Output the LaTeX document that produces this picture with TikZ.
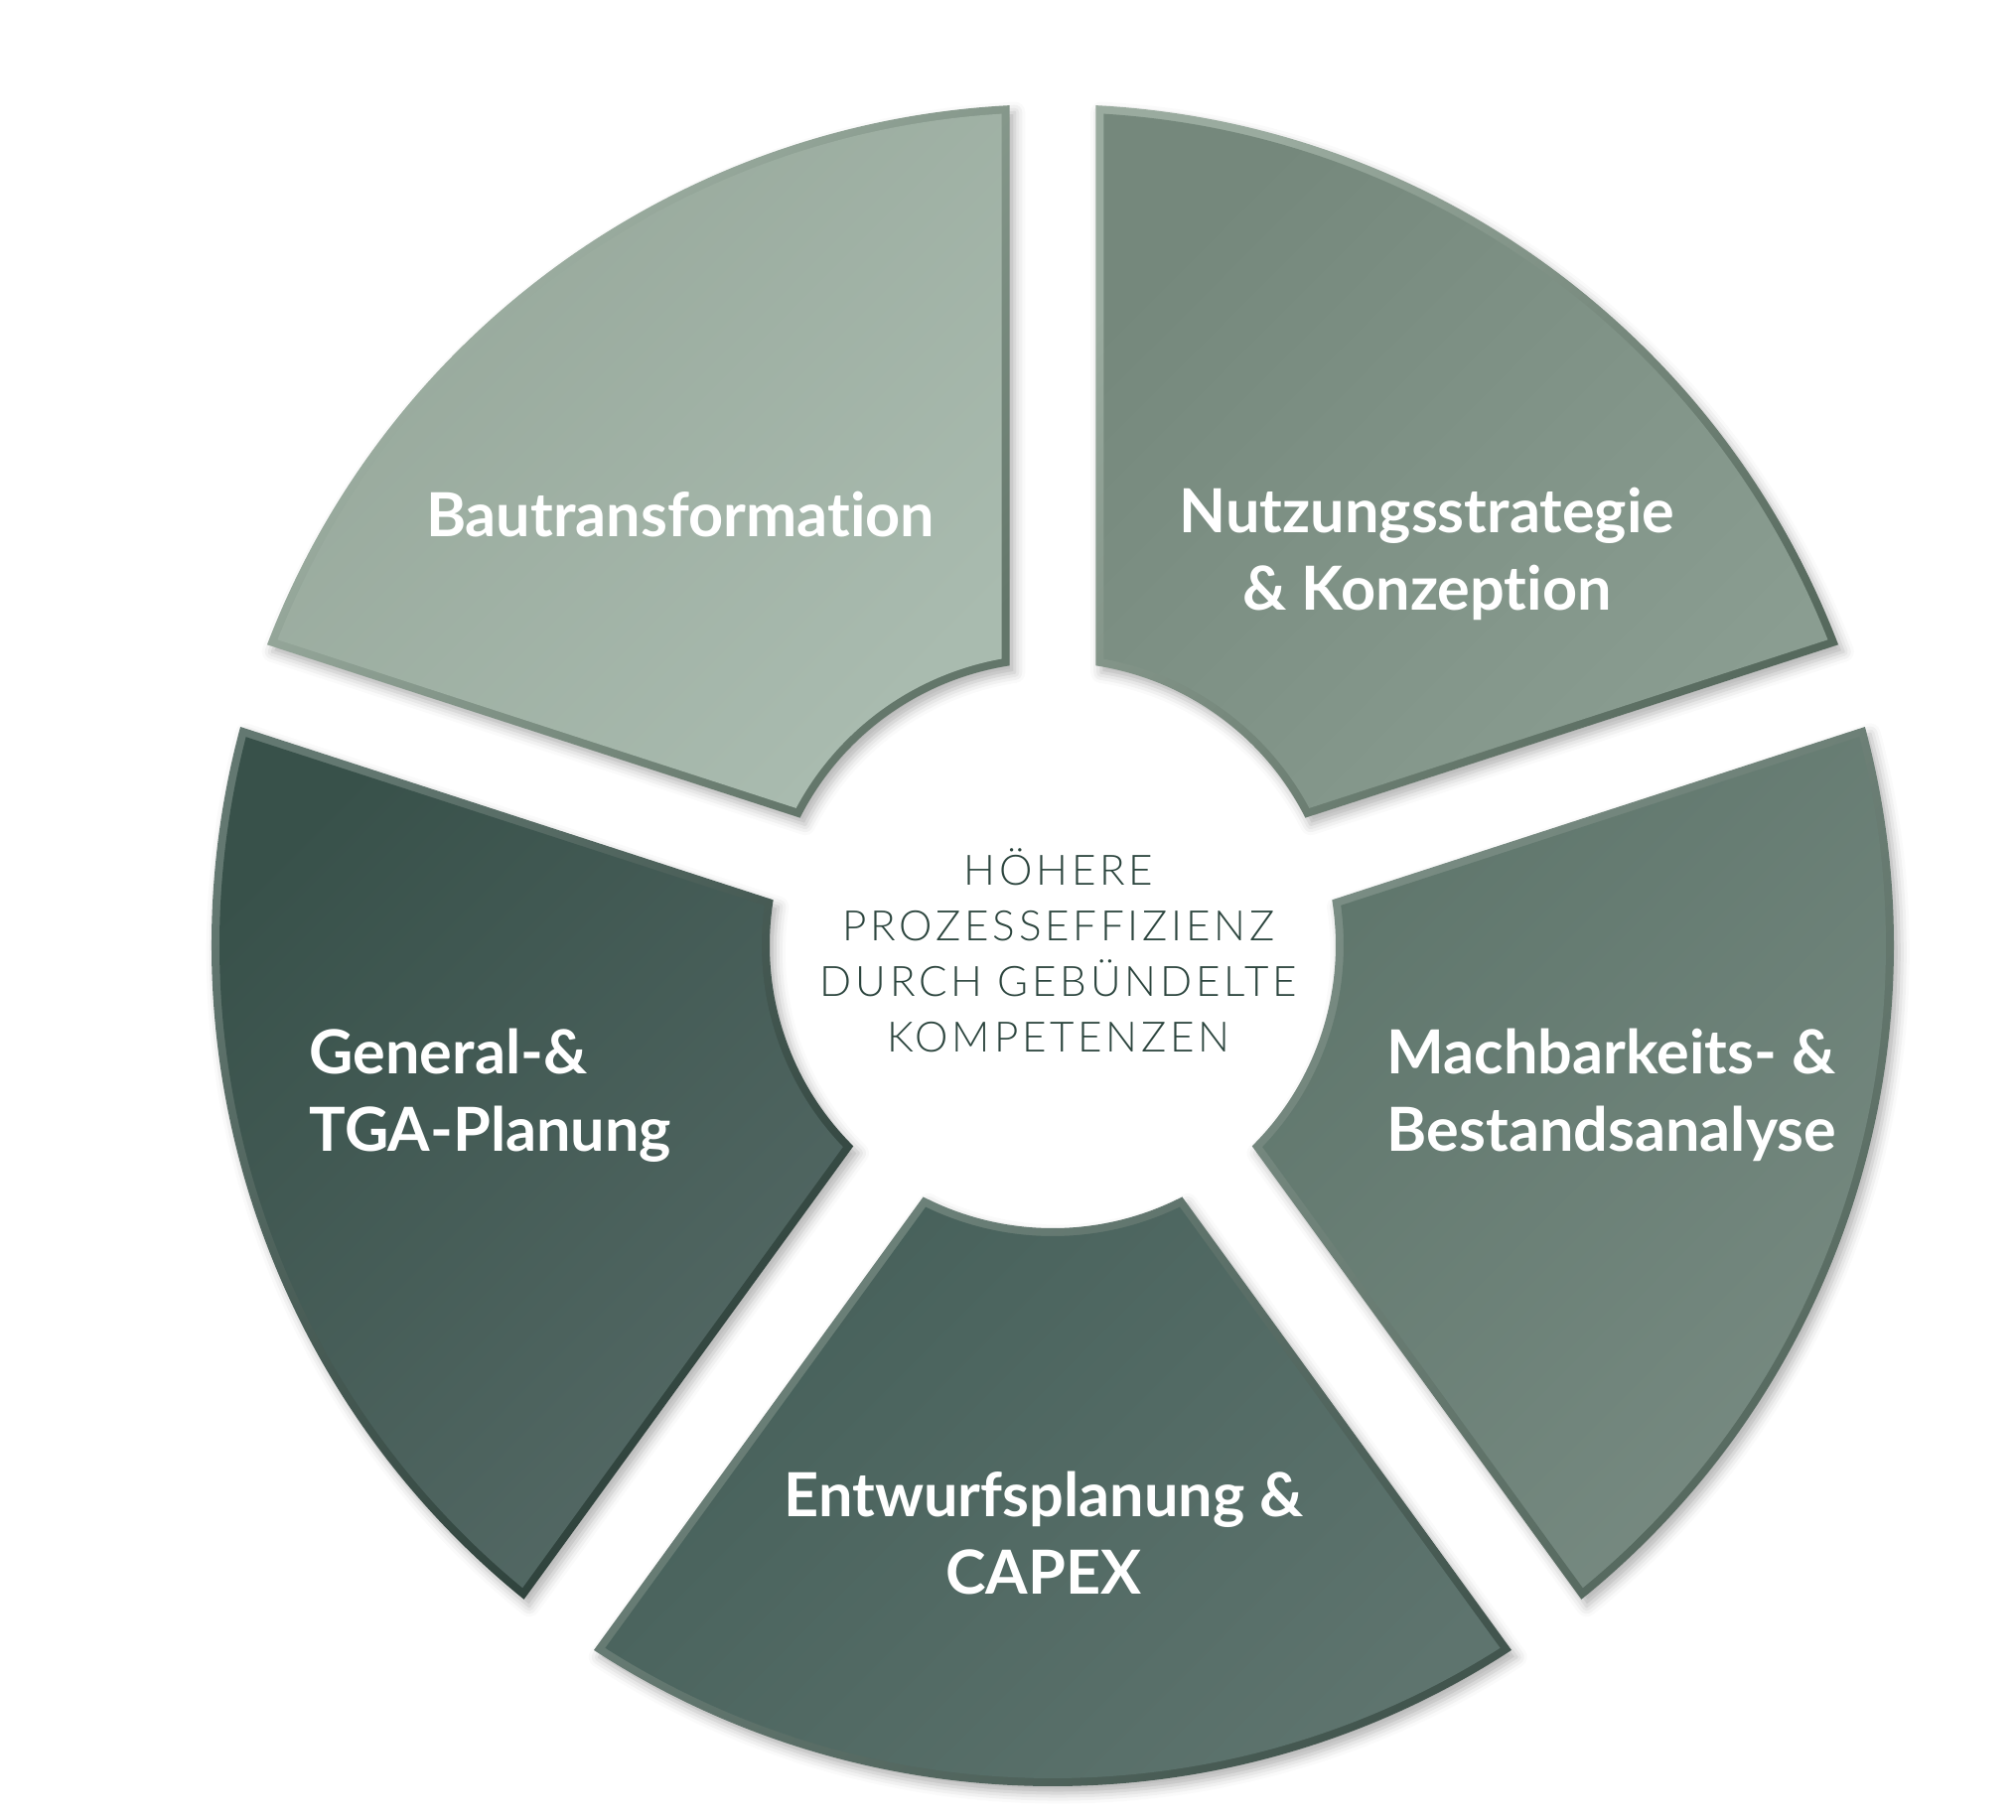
\documentclass[tikz,border=0pt]{standalone}
\usepackage{fontspec}
\setmainfont{Lato}[Ligatures=NoCommon]
\newfontfamily\lightfont{Lato Light}[LetterSpace=9]
\usetikzlibrary{shadows.blur}

\definecolor{faceA1}{HTML}{96A79A}\definecolor{faceA2}{HTML}{A9BBAF}
\definecolor{rimA1}{HTML}{AABBAE}\definecolor{rimA2}{HTML}{63766A}
\definecolor{faceB1}{HTML}{75887C}\definecolor{faceB2}{HTML}{8A9D91}
\definecolor{rimB1}{HTML}{9AAB9F}\definecolor{rimB2}{HTML}{56695D}
\definecolor{faceC1}{HTML}{5F766C}\definecolor{faceC2}{HTML}{788B82}
\definecolor{rimC1}{HTML}{7B8E85}\definecolor{rimC2}{HTML}{52655B}
\definecolor{faceD1}{HTML}{46605A}\definecolor{faceD2}{HTML}{5E746E}
\definecolor{rimD1}{HTML}{70857D}\definecolor{rimD2}{HTML}{42554E}
\definecolor{faceE1}{HTML}{38514A}\definecolor{faceE2}{HTML}{546965}
\definecolor{rimE1}{HTML}{637871}\definecolor{rimE2}{HTML}{2B3E38}
\definecolor{midtext}{HTML}{2C453E}

\def\labelfont{\fontsize{17.4}{22.2}\selectfont\bfseries}
\def\midfont{\lightfont\fontsize{12}{15.9}\selectfont}
% ring piece: start angle, end angle, outer radius, inner radius, half gap
\def\ringpart#1#2#3#4#5{({#1+asin(#5/#3)}:#3) arc[start angle={#1+asin(#5/#3)}, end angle={#2-asin(#5/#3)}, radius=#3] -- ({#2-asin(#5/#4)}:#4) arc[start angle={#2-asin(#5/#4)}, end angle={#1+asin(#5/#4)}, radius=#4] -- cycle}

\begin{document}
\begin{tikzpicture}[x=0.01cm,y=0.01cm,
  softshadow/.style={blur shadow={shadow xshift=1.5pt,shadow yshift=-2pt,shadow blur radius=3pt,shadow opacity=30}},
  seglabel/.style={text=white,font=\labelfont,inner sep=0pt},
  midlabel/.style={text=midtext,font=\midfont,align=center,inner sep=0pt}]
\useasboundingbox (-1060,-880) rectangle (970,952);

% Bautransformation
\path[softshadow,top color=rimA1,bottom color=rimA2,shading angle=45] \ringpart{90}{162}{847}{285}{43.5};
\path[top color=faceA1,bottom color=faceA2,shading angle=45] \ringpart{90}{162}{839}{293}{51.5};
% Nutzungsstrategie
\path[softshadow,top color=rimB1,bottom color=rimB2,shading angle=45] \ringpart{18}{90}{847}{285}{43.5};
\path[top color=faceB1,bottom color=faceB2,shading angle=45] \ringpart{18}{90}{839}{293}{51.5};
% Machbarkeit
\path[softshadow,top color=rimC1,bottom color=rimC2,shading angle=45] \ringpart{-54}{18}{847}{285}{43.5};
\path[top color=faceC1,bottom color=faceC2,shading angle=45] \ringpart{-54}{18}{839}{293}{51.5};
% Entwurf
\path[softshadow,top color=rimD1,bottom color=rimD2,shading angle=45] \ringpart{234}{306}{847}{285}{43.5};
\path[top color=faceD1,bottom color=faceD2,shading angle=45] \ringpart{234}{306}{839}{293}{51.5};
% General
\path[softshadow,top color=rimE1,bottom color=rimE2,shading angle=45] \ringpart{162}{234}{847}{285}{43.5};
\path[top color=faceE1,bottom color=faceE2,shading angle=45] \ringpart{162}{234}{839}{293}{51.5};

\node[seglabel] (bau) at (-375,434) {Bautransformation};
\node[seglabel,align=center] (nutz) at (377,394) {Nutzungsstrategie\\\& Konzeption};
\node[seglabel,align=left,anchor=west] (mach) at (336,-151) {Machbarkeits- \&\\Bestandsanalyse};
\node[seglabel,align=left,anchor=west] (gen) at (-749,-151) {General-\&\\TGA-Planung};
\node[seglabel,align=center] (entw) at (-9,-592) {Entwurfsplanung \&\\CAPEX};
\node[midlabel] (mitte) at (6,-5) {HÖHERE\\PROZESSEFFIZIENZ\\DURCH GEBÜNDELTE\\KOMPETENZEN};
\end{tikzpicture}
\end{document}
